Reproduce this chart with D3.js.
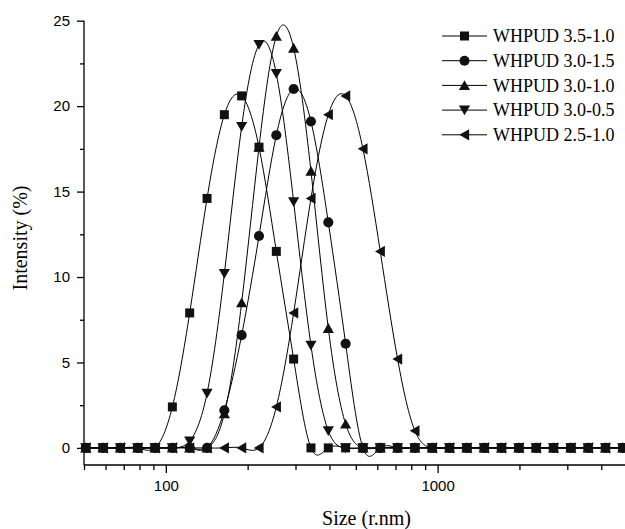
<!DOCTYPE html>
<html>
<head>
<meta charset="utf-8">
<script src="https://cdn.jsdelivr.net/npm/d3@7"></script>
<style>
  html, body { margin: 0; padding: 0; background: #fff; }
  svg { display: block; }
  .tick-label { font-family: "Liberation Sans", Arial, sans-serif; font-size: 15px; fill: #000; }
  .title { font-family: "Liberation Serif", "Times New Roman", serif; font-size: 20px; fill: #000; }
  .legend-text { font-family: "Liberation Serif", "Times New Roman", serif; font-size: 18px; fill: #000; }
</style>
</head>
<body>
<svg id="chart" width="625" height="529"></svg>
<script>
// Hydrodynamic size bins (nm) of the DLS instrument within the plotted range
const sizes = [50.75, 58.77, 68.06, 78.82, 91.28, 105.7, 122.4, 141.8, 164.2, 190.1,
  220.2, 255.0, 295.3, 342.0, 396.1, 458.7, 531.2, 615.1, 712.4, 825.0, 955.4,
  1106, 1281, 1484, 1718, 1990, 2305, 2669, 3091, 3580, 4145, 4801];

// Intensity (%) per size bin for each dispersion
const whpud35_10 = [0, 0, 0, 0, 0, 2.4, 7.9, 14.6, 19.5, 20.6, 17.6, 11.5, 5.2, 0, 0, 0,
  0, 0, 0, 0, 0, 0, 0, 0, 0, 0, 0, 0, 0, 0, 0, 0];
const whpud30_15 = [0, 0, 0, 0, 0, 0, 0, 0, 2.2, 6.6, 12.4, 18.3, 21.0, 19.1, 13.2, 6.1,
  0, 0, 0, 0, 0, 0, 0, 0, 0, 0, 0, 0, 0, 0, 0, 0];
const whpud30_10 = [0, 0, 0, 0, 0, 0, 0, 0, 2.0, 8.5, 17.6, 24.1, 23.4, 16.2, 7.0, 1.4,
  0, 0, 0, 0, 0, 0, 0, 0, 0, 0, 0, 0, 0, 0, 0, 0];
const whpud30_05 = [0, 0, 0, 0, 0, 0, 0.4, 3.2, 10.2, 18.8, 23.6, 21.9, 14.4, 6.0, 1.0, 0,
  0, 0, 0, 0, 0, 0, 0, 0, 0, 0, 0, 0, 0, 0, 0, 0];
const whpud25_10 = [0, 0, 0, 0, 0, 0, 0, 0, 0, 0, 0, 2.4, 7.9, 14.6, 19.5, 20.6,
  17.5, 11.5, 5.2, 1.0, 0, 0, 0, 0, 0, 0, 0, 0, 0, 0, 0, 0];

const seriesNames = ["WHPUD 3.5-1.0", "WHPUD 3.0-1.5", "WHPUD 3.0-1.0", "WHPUD 3.0-0.5", "WHPUD 2.5-1.0"];
const seriesValues = [whpud35_10, whpud30_15, whpud30_10, whpud30_05, whpud25_10];
const seriesSymbols = ["square", "circle", "up", "down", "left"];

const yMajorTicks = [0, 5, 10, 15, 20, 25];
const yMinorTicks = [2.5, 7.5, 12.5, 17.5, 22.5];
const xMajorTicks = [100, 1000];
const xMinorTicks = [50, 60, 70, 80, 90, 200, 300, 400, 500, 600, 700, 800, 900, 2000, 3000, 4000, 5000];

const svg = d3.select("#chart");

const x = d3.scaleLog().domain([50, 5000]).range([84, 627.6]);
const y = d3.scaleLinear().domain([-1, 25]).range([465, 20.7]);

// Marker shapes centred on their bounding box
function markerPath(kind) {
  switch (kind) {
    case "square": return "M-4.5,-4.5H4.5V4.5H-4.5Z";
    case "circle": return d3.symbol(d3.symbolCircle, 80)();
    case "up": return "M0,-5.2L5.6,4.6L-5.6,4.6Z";
    case "down": return "M0,5.2L5.6,-4.6L-5.6,-4.6Z";
    case "left": return "M-5.2,0L4.6,-5.6L4.6,5.6Z";
  }
}

// Axes
const axisG = svg.append("g").attr("stroke", "#000").attr("stroke-width", 1.3).attr("fill", "none");
axisG.append("line").attr("x1", x(50)).attr("x2", 625).attr("y1", y(-1)).attr("y2", y(-1));
axisG.append("line").attr("x1", x(50)).attr("x2", x(50)).attr("y1", y(25)).attr("y2", y(-1));

const xAxis = d3.axisBottom(x).tickValues(xMajorTicks).tickFormat(d3.format("d")).tickSize(8).tickPadding(7);
const xAxisMinor = d3.axisBottom(x).tickValues(xMinorTicks).tickFormat("").tickSize(5);
const yAxis = d3.axisLeft(y).tickValues(yMajorTicks).tickFormat(d3.format("d")).tickSize(7).tickPadding(7);
const yAxisMinor = d3.axisLeft(y).tickValues(yMinorTicks).tickFormat("").tickSize(4);

function styleAxis(g) {
  g.select(".domain").remove();
  g.selectAll(".tick line").attr("stroke", "#000").attr("stroke-width", 1.3);
  g.selectAll(".tick text").attr("class", "tick-label").attr("font-size", null).attr("font-family", null);
}

svg.append("g").attr("transform", `translate(0,${y(-1)})`).call(xAxis).call(styleAxis);
svg.append("g").attr("transform", `translate(0,${y(-1)})`).call(xAxisMinor).call(styleAxis);
svg.append("g").attr("transform", `translate(${x(50)},0)`).call(yAxis).call(styleAxis);
svg.append("g").attr("transform", `translate(${x(50)},0)`).call(yAxisMinor).call(styleAxis);

// Axis titles
svg.append("text").attr("class", "title")
  .attr("x", 366.5).attr("y", 525).attr("text-anchor", "middle")
  .text("Size (r.nm)");
svg.append("text").attr("class", "title")
  .attr("transform", "translate(27,238) rotate(-90)").attr("text-anchor", "middle")
  .text("Intensity (%)");

// Spline curves
const line = d3.line()
  .x((d, i) => x(sizes[i]))
  .y(d => y(d))
  .curve(d3.curveNatural);

const plot = svg.append("g");
seriesValues.forEach(vals => {
  plot.append("path").attr("d", line(vals))
    .attr("fill", "none").attr("stroke", "#000").attr("stroke-width", 1);
});

// Markers
seriesValues.forEach((vals, s) => {
  plot.append("g").selectAll("path").data(vals).join("path")
    .attr("d", markerPath(seriesSymbols[s]))
    .attr("transform", (d, i) => `translate(${x(sizes[i])},${y(d)})`)
    .attr("fill", "#111");
});

// Legend
const legend = svg.append("g");
seriesNames.forEach((name, i) => {
  const ly = 36 + i * 24.7;
  legend.append("line").attr("x1", 442).attr("x2", 487).attr("y1", ly).attr("y2", ly)
    .attr("stroke", "#000").attr("stroke-width", 1);
  legend.append("path").attr("d", markerPath(seriesSymbols[i]))
    .attr("transform", `translate(464.5,${ly})`).attr("fill", "#111");
  legend.append("text").attr("class", "legend-text")
    .attr("x", 493).attr("y", ly).attr("dy", "0.35em").text(name);
});
</script>
</body>
</html>
